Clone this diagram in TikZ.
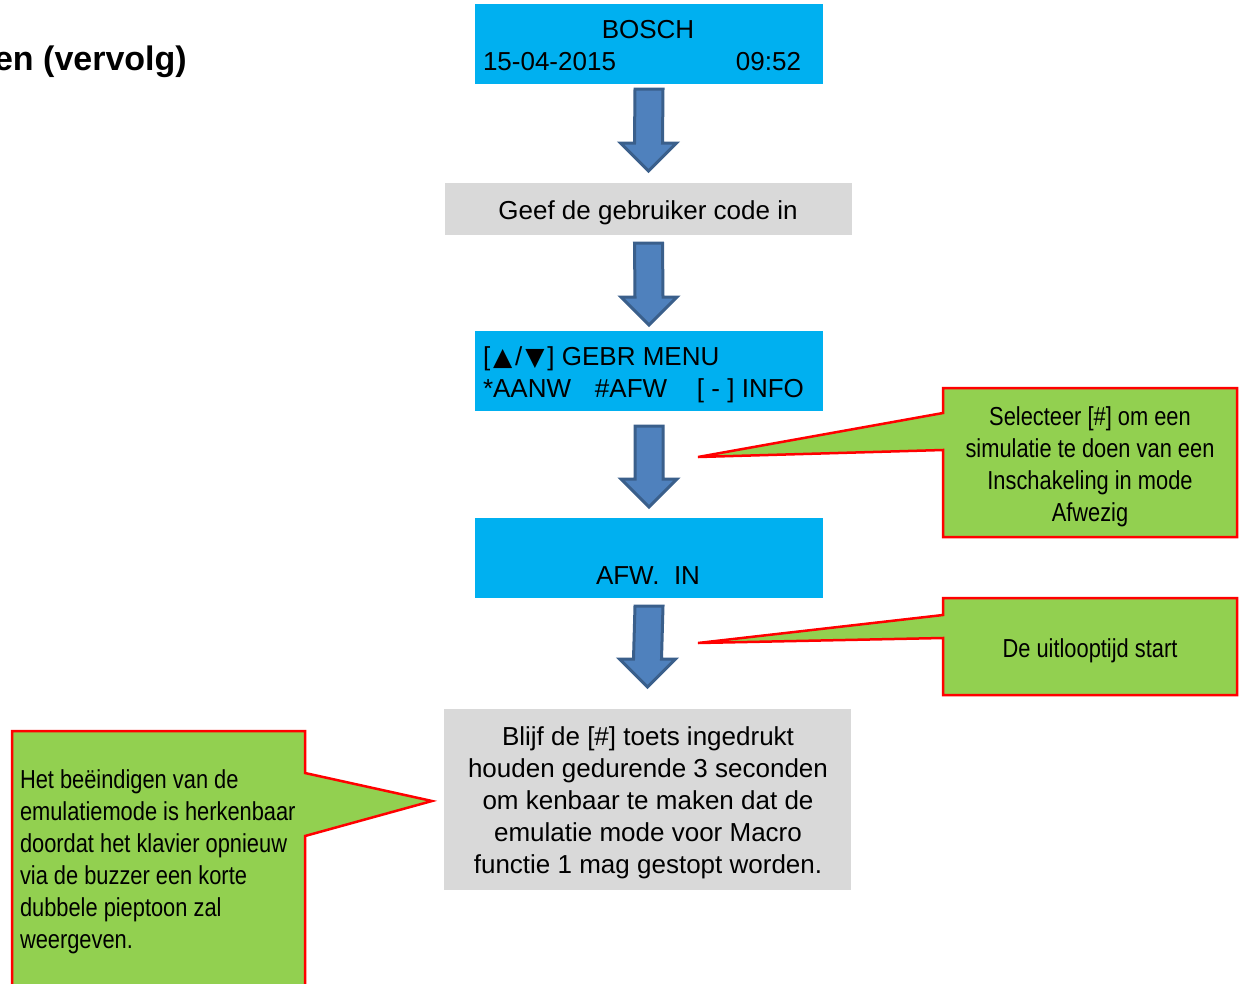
\documentclass[tikz,border=0pt]{standalone}
\usepackage{fontspec}
\setmainfont{Liberation Sans}
\newfontfamily\narrowfont[FakeStretch=0.84]{Liberation Sans}
\newfontfamily\symfont{DejaVu Sans}
\usetikzlibrary{calc,backgrounds}
\definecolor{lcdblue}{HTML}{00B0F0}
\definecolor{boxgray}{HTML}{D9D9D9}
\definecolor{callgreen}{HTML}{92D050}
\definecolor{callred}{HTML}{FF0000}
\definecolor{arrfill}{HTML}{4F81BD}
\definecolor{arrline}{HTML}{3A5F8B}
\newcommand{\tri}[1]{\makebox[25pt]{\symfont\fontsize{25}{32}\selectfont #1}}
\tikzset{
  lcdbox/.style={fill=lcdblue, inner sep=0pt, outer sep=0pt, minimum width=348pt, minimum height=80pt},
  graybox/.style={fill=boxgray, inner sep=0pt, outer sep=0pt},
  txt/.style={inner sep=0pt, outer sep=0pt, font=\fontsize{26}{32}\selectfont},
  ntxt/.style={inner sep=0pt, outer sep=0pt, font=\narrowfont\fontsize{26}{32}\selectfont},
  callbox/.style={inner sep=0pt, outer sep=0pt},
  callshape/.style={fill=callgreen, draw=callred, line width=2.5pt, line join=miter},
  blockarr/.style={fill=arrfill, draw=arrline, line width=3pt, line join=miter},
}
\newcommand{\blockarrow}[4]{%
  \filldraw[blockarr] ($(#1.south)+(-14,#3)$) -- ($(#1.south)+(14,#3)$)
    -- ($(#2.north)+(14,-#4-28)$) -- ($(#2.north)+(28,-#4-28)$)
    -- ($(#2.north)+(0,-#4)$) -- ($(#2.north)+(-28,-#4-28)$)
    -- ($(#2.north)+(-14,-#4-28)$) -- cycle;}
\begin{document}
\begin{tikzpicture}[x=1pt,y=-1pt]
\clip (0,0) rectangle (1240,983);

% title
\node[inner sep=0pt, anchor=base east, font=\bfseries\fontsize{34}{40}\selectfont] (title) at (187,70) {en (vervolg)};

% flow boxes
\node[lcdbox] (b1) at (649,44) {};
\node[txt, anchor=base] (b1a) at (648,38) {BOSCH};
\node[txt, anchor=base west] (b1b) at (483,70) {15-04-2015};
\node[txt, anchor=base east] (b1c) at (801,70) {09:52};

\node[graybox, minimum width=407pt, minimum height=52pt] (b2) at (648.5,209) {};
\node[txt] (b2t) at (648,213) {Geef de gebruiker code in};

\node[lcdbox] (b3) at (649,371) {};
\node[txt, anchor=base west] (b3a) at (483,365) {[\tri{▲}/\tri{▼}] GEBR MENU};
\node[txt, anchor=base west] (b3b) at (483,397) {\rlap{*AANW}\hspace{112pt}\rlap{\#AFW}\hspace{102pt}[ - ] INFO};

\node[lcdbox] (b4) at (649,558) {};
\node[txt, anchor=base] (b4t) at (648,584) {AFW.\ \ IN};

\node[graybox, minimum width=407pt, minimum height=181pt] (b5) at (647.5,799.5) {};
\node[txt, align=center] (b5t) at (648,803) {Blijf de [\#] toets ingedrukt\\houden gedurende 3 seconden\\om kenbaar te maken dat de\\emulatie mode voor Macro\\functie 1 mag gestopt worden.};

% block arrows
\blockarrow{b1}{b2}{5}{12}
\blockarrow{b2}{b3}{8}{6}
\blockarrow{b3}{b4}{15}{11}
\blockarrow{b4}{b5}{8}{22}

% callouts
\node[callbox, minimum width=294pt, minimum height=149pt] (c1) at (1090,462.5) {};
\node[ntxt, align=center] (c1t) at (1090,467) {Selecteer [\#] om een\\simulatie te doen van een\\Inschakeling in mode\\Afwezig};
\coordinate (t1) at (698,457);

\node[callbox, minimum width=294pt, minimum height=97pt] (c2) at (1090,646.5) {};
\node[ntxt] (c2t) at (1090,651) {De uitlooptijd start};
\coordinate (t2) at (698,643);

\node[callbox, minimum width=293pt, minimum height=280pt] (c3) at (158.5,871) {};
\node[ntxt, align=left, anchor=west] (c3t) at (20,862) {Het beëindigen van de\\emulatiemode is herkenbaar\\doordat het klavier opnieuw\\via de buzzer een korte\\dubbele pieptoon zal\\weergeven.};
\coordinate (t3) at (432,801);

\begin{scope}[on background layer]
\fill[white] (0,0) rectangle (1240,983);
\filldraw[callshape] (c1.north west) -- (c1.north east) -- (c1.south east) -- (c1.south west)
  -- ($(c1.north west)+(0,62)$) -- (t1) -- ($(c1.north west)+(0,25)$) -- cycle;
\filldraw[callshape] (c2.north west) -- (c2.north east) -- (c2.south east) -- (c2.south west)
  -- ($(c2.north west)+(0,40)$) -- (t2) -- ($(c2.north west)+(0,17)$) -- cycle;
\filldraw[callshape] (c3.north west) -- (c3.north east) -- ($(c3.north east)+(0,42)$) -- (t3)
  -- ($(c3.north east)+(0,105)$) -- (c3.south east) -- (c3.south west) -- cycle;
\end{scope}
\end{tikzpicture}
\end{document}
